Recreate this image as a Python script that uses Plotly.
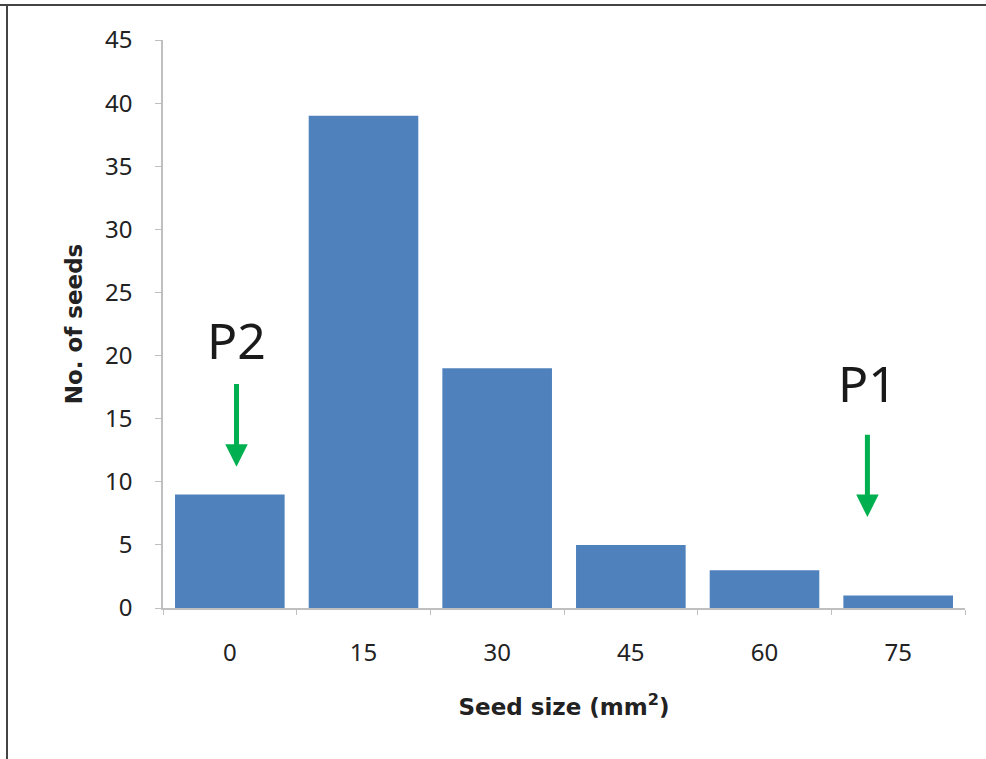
import plotly.graph_objects as go

# Seed size distribution
size_labels = ["0", "15", "30", "45", "60", "75"]
seed_counts = [9, 39, 19, 5, 3, 1]

# Parent markers: label, category position, label height, arrow tip
marker_labels = ["P2", "P1"]
marker_x = [0.05, 4.77]
marker_text_y = [21.2, 17.8]
arrow_tip_y = [11.2, 7.2]

BAR_COLOR = "#4F81BD"
ARROW_COLOR = "#00B050"
AXIS_COLOR = "#BFBFBF"
FONT = "Noto Sans"
TITLE_FONT = "DejaVu Sans"
ARROW_GAP = {"P2": 8, "P1": 16}

fig = go.Figure(
    go.Bar(
        x=size_labels,
        y=seed_counts,
        marker=dict(color=BAR_COLOR, line=dict(width=0)),
        width=0.82,
    )
)

annotations = []
for lbl, x, ty, tip in zip(marker_labels, marker_x, marker_text_y, arrow_tip_y):
    # label sits at the arrow's tail; the arrow points down to the bar
    annotations.append(dict(
        x=x, y=tip, ax=x, ay=ty, xref="x", yref="y", axref="x", ayref="y",
        text=lbl, showarrow=True, arrowhead=2, arrowsize=0.9, arrowwidth=5,
        arrowcolor=ARROW_COLOR, startstandoff=ARROW_GAP[lbl],
        font=dict(family=FONT, size=50, color="#1a1a1a"),
    ))

fig.update_layout(
    width=986, height=759,
    margin=dict(l=163, r=21, t=40, b=151),
    paper_bgcolor="white", plot_bgcolor="white",
    showlegend=False,
    annotations=annotations,
    font=dict(family=FONT, color="#222222"),
    shapes=[
        dict(type="line", xref="paper", yref="paper", x0=-163/802, x1=1 + 21/802,
             y0=1 + 35/568, y1=1 + 35/568, line=dict(color="#444444", width=2)),
        dict(type="line", xref="paper", yref="paper", x0=-156/802, x1=-156/802,
             y0=-151/568, y1=1 + 35/568, line=dict(color="#444444", width=2)),
    ],
)

fig.update_xaxes(
    type="category", tickson="boundaries",
    range=[-0.5, len(size_labels) - 0.5],
    showline=True, linecolor=AXIS_COLOR, linewidth=1.5,
    ticks="outside", ticklen=5, tickcolor=AXIS_COLOR,
    showgrid=False, zeroline=False,
    tickfont=dict(size=24, family=FONT, color="#222222"),
    title=dict(text="<b>Seed size (mm<sup>2</sup>)</b>", font=dict(size=23, family=TITLE_FONT, color="#222222"), standoff=32),
    ticklabelstandoff=22,
)

fig.update_yaxes(
    range=[0, 45], tickmode="linear", tick0=0, dtick=5,
    showline=True, linecolor=AXIS_COLOR, linewidth=1.5,
    ticks="outside", ticklen=6, tickcolor=AXIS_COLOR,
    showgrid=False, zeroline=False,
    tickfont=dict(size=24, family=FONT, color="#222222"),
    title=dict(text="<b>No. of seeds</b>", font=dict(size=23, family=TITLE_FONT, color="#222222"), standoff=16),
    ticklabelstandoff=18,
)

fig.write_html("out.html")
